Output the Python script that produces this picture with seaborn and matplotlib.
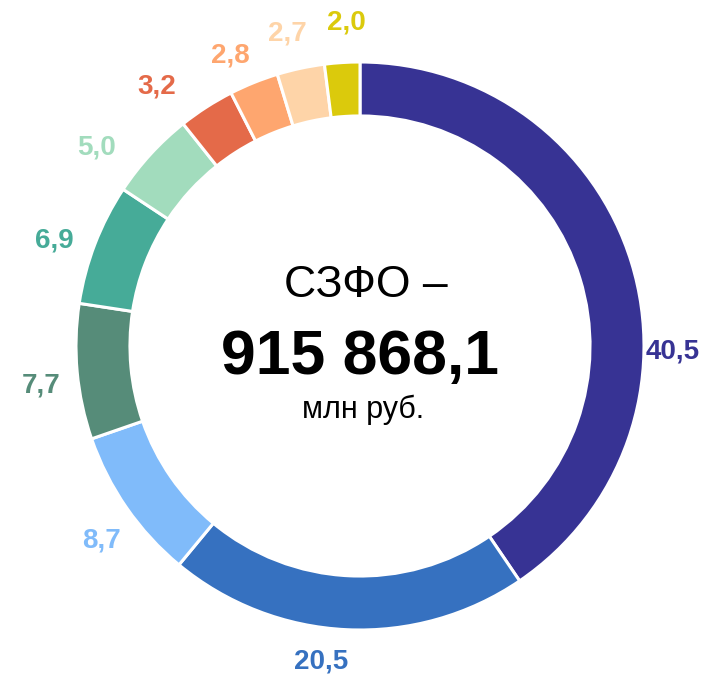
import matplotlib.pyplot as plt
import numpy as np
import seaborn as sns

# shares of the total, %
values = [40.5, 20.5, 8.7, 7.7, 6.9, 5.0, 3.2, 2.8, 2.7, 2.0]
labels = ["40,5", "20,5", "8,7", "7,7", "6,9", "5,0", "3,2", "2,8", "2,7", "2,0"]
colors = ["#373394", "#3671c0", "#80bbfa", "#568c79", "#46ab98",
          "#a2dcbd", "#e46a49", "#fea66f", "#fed4a8", "#dbca0c"]

title_line = "СЗФО –"
total_line = "915 868,1"
unit_line = "млн руб."

# label placement: angle clockwise from top (deg) and distance in radii
label_angle = [91, 187, 233, 263, 289, 307, 322, 336, 347, 357.5]
label_dist = [1.10, 1.12, 1.14, 1.13, 1.14, 1.16, 1.16, 1.12, 1.13, 1.14]

sns.set_theme(style="white")
plt.rcParams['font.family'] = ['Liberation Sans', 'DejaVu Sans']

fig = plt.figure(figsize=(7.26, 6.75), dpi=100)
ax = fig.add_axes([0, 0, 1, 1])

ax.pie(values, colors=colors, startangle=90, counterclock=False, radius=1,
       wedgeprops=dict(width=0.19, edgecolor='white', linewidth=2.2))

for lab, col, ang, d in zip(labels, colors, label_angle, label_dist):
    a = np.deg2rad(ang)
    ax.text(d * np.sin(a), d * np.cos(a), lab, color=col, fontsize=20,
            fontweight='bold', ha='center', va='center')

# centre caption
ax.text(0.02, 0.173, title_line, fontsize=32, ha='center', va='baseline', color='black')
ax.text(0.0, -0.099, total_line, fontsize=45, fontweight='bold', ha='center', va='baseline', color='black')
ax.text(0.012, -0.253, unit_line, fontsize=22, ha='center', va='baseline', color='black')

ax.set_xlim(-360 / 284, 366 / 284)
ax.set_ylim(-329 / 284, 346 / 284)
ax.set_aspect('equal')
ax.axis('off')

fig.savefig('out.png', dpi=100, facecolor='white')
